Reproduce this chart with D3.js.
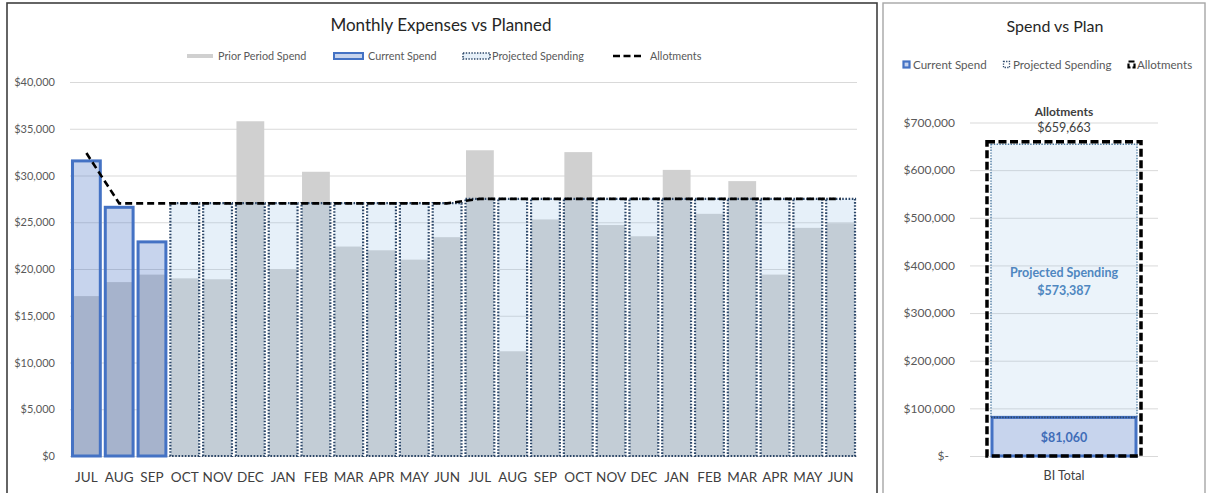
<!DOCTYPE html>
<html>
<head>
<meta charset="utf-8">
<script src="https://cdn.jsdelivr.net/npm/d3@7"></script>
<style>
  html, body { margin: 0; padding: 0; background: #fff; }
  svg { display: block; font-family: Lato, "Open Sans", sans-serif; }
</style>
</head>
<body>
<svg id="chart" width="1207" height="493"></svg>
<script>
// ---------- data ----------
const months = ["JUL","AUG","SEP","OCT","NOV","DEC","JAN","FEB","MAR","APR","MAY","JUN",
                "JUL","AUG","SEP","OCT","NOV","DEC","JAN","FEB","MAR","APR","MAY","JUN"];
const priorSpend = [17100, 18600, 19400, 19000, 18900, 35800, 20000, 30400, 22400, 22000, 21000, 23400,
                    32700, 11200, 25300, 32500, 24700, 23500, 30600, 25900, 29400, 19400, 24400, 24900];
const currentSpend = [31560, 26600, 22900, null, null, null, null, null, null, null, null, null,
                      null, null, null, null, null, null, null, null, null, null, null, null];
const projectedSpend = [null, null, null, 27040, 27040, 27040, 27040, 27040, 27040, 27040, 27040, 27040,
                        27500, 27500, 27500, 27500, 27500, 27500, 27500, 27500, 27500, 27500, 27500, 27500];
const allotments = [32400, 27024, 27024, 27024, 27024, 27024, 27024, 27024, 27024, 27024, 27024, 27024,
                    27500, 27500, 27500, 27500, 27500, 27500, 27500, 27500, 27500, 27500, 27500, 27500];
const leftTicks = [0, 5000, 10000, 15000, 20000, 25000, 30000, 35000, 40000];

const totalCategory = ["BI Total"];
const totalCurrent = [81060];
const totalProjected = [573387];
const totalAllotment = [659663];
const rightTicks = [0, 100000, 200000, 300000, 400000, 500000, 600000, 700000];

// ---------- styles ----------
const C = {
  prior: "#d0d0d0",
  blue: "#4472c4",
  projFill: "#9dc3e6",
  projStroke: "#2b4668",
  text: "#595959",
  grid: "#d9d9d9"
};

const svg = d3.select("#chart");
svg.append("rect").attr("width", 1207).attr("height", 493).attr("fill", "#fff");

// panel borders
svg.append("rect").attr("x", 7).attr("y", 3).attr("width", 870).attr("height", 500)
  .attr("fill", "none").attr("stroke", "#3f3f3f").attr("stroke-width", 1.6);
svg.append("rect").attr("x", 883).attr("y", 3).attr("width", 322).attr("height", 500)
  .attr("fill", "none").attr("stroke", "#a6a6a6").attr("stroke-width", 1.4);

// ================= LEFT CHART =================
const x = d3.scaleBand().domain(d3.range(months.length)).range([70, 857])
  .paddingInner(0.06).paddingOuter(0.03);
const y = d3.scaleLinear().domain([0, 40000]).range([456, 82]);
const bw = x.bandwidth();

// grid
const gGrid = svg.append("g").attr("transform", "translate(70,0)")
  .call(d3.axisLeft(y).tickValues(leftTicks).tickSize(-787).tickFormat(""));
gGrid.select(".domain").remove();
gGrid.selectAll("line").attr("stroke", C.grid).attr("stroke-width", 1);

// y labels
const gY = svg.append("g").attr("transform", "translate(57,0)")
  .call(d3.axisLeft(y).tickValues(leftTicks).tickSize(0).tickPadding(2)
    .tickFormat(d => "$" + d3.format(",")(d)));
gY.select(".domain").remove();
gY.selectAll("text").attr("fill", C.text).style("font-size", "11px").style("font-family", "Lato, sans-serif");

// x labels
const gX = svg.append("g").attr("transform", "translate(0,456)")
  .call(d3.axisBottom(x).tickSize(0).tickPadding(16).tickFormat(i => months[i]));
gX.select(".domain").remove();
gX.selectAll("text").attr("fill", "#404040").style("font-size", "13.5px").style("font-family", "Lato, sans-serif");

// prior period bars
svg.append("g").selectAll("rect").data(priorSpend).join("rect")
  .attr("x", (d, i) => x(i) + 1.5)
  .attr("width", bw - 3)
  .attr("y", d => y(d))
  .attr("height", d => y(0) - y(d))
  .attr("fill", C.prior);

// projected bars
const projIdx = d3.range(months.length).filter(i => projectedSpend[i] != null);
svg.append("g").selectAll("rect").data(projIdx).join("rect")
  .attr("x", i => x(i) + 1)
  .attr("width", bw - 2)
  .attr("y", i => y(projectedSpend[i]))
  .attr("height", i => y(0) - y(projectedSpend[i]))
  .attr("fill", C.projFill).attr("fill-opacity", 0.25)
  .attr("stroke", C.projStroke).attr("stroke-width", 2.2)
  .attr("stroke-dasharray", "1.6,1.6");

// current spend bars
const curIdx = d3.range(months.length).filter(i => currentSpend[i] != null);
svg.append("g").selectAll("rect").data(curIdx).join("rect")
  .attr("x", i => x(i) + 1.5)
  .attr("width", bw - 3)
  .attr("y", i => y(currentSpend[i]))
  .attr("height", i => y(0) - y(currentSpend[i]))
  .attr("fill", C.blue).attr("fill-opacity", 0.3)
  .attr("stroke", C.blue).attr("stroke-width", 3);

// allotments line
svg.append("path")
  .datum(allotments)
  .attr("d", d3.line().x((d, i) => x(i) + bw / 2).y(d => y(d)))
  .attr("fill", "none").attr("stroke", "#000").attr("stroke-width", 2.6)
  .attr("stroke-dasharray", "7,4");

// title
svg.append("text").attr("x", 441).attr("y", 31).attr("text-anchor", "middle")
  .attr("fill", "#262626").style("font-size", "17px").text("Monthly Expenses vs Planned");

// legend
const lg = svg.append("g").style("font-size", "10.8px").attr("fill", C.text);
lg.append("rect").attr("x", 187).attr("y", 54).attr("width", 26).attr("height", 4).attr("fill", C.prior);
lg.append("text").attr("x", 218).attr("y", 59.5).text("Prior Period Spend");
lg.append("rect").attr("x", 334).attr("y", 53).attr("width", 29).attr("height", 6)
  .attr("fill", C.blue).attr("fill-opacity", 0.3).attr("stroke", C.blue).attr("stroke-width", 2);
lg.append("text").attr("x", 368).attr("y", 59.5).text("Current Spend");
lg.append("rect").attr("x", 463).attr("y", 53).attr("width", 27).attr("height", 6)
  .attr("fill", C.projFill).attr("fill-opacity", 0.25)
  .attr("stroke", C.projStroke).attr("stroke-width", 1.6).attr("stroke-dasharray", "1.4,1.4");
lg.append("text").attr("x", 492).attr("y", 59.5).text("Projected Spending");
lg.append("line").attr("x1", 613).attr("x2", 644).attr("y1", 56).attr("y2", 56)
  .attr("stroke", "#000").attr("stroke-width", 2.4).attr("stroke-dasharray", "7,3.5");
lg.append("text").attr("x", 650).attr("y", 59.5).text("Allotments");

// ================= RIGHT CHART =================
const xr = d3.scaleBand().domain(totalCategory).range([970, 1158]).padding(0.1257);
const yr = d3.scaleLinear().domain([0, 700000]).range([456, 122.5]);
const rbw = xr.bandwidth();

const gGridR = svg.append("g").attr("transform", "translate(970,0)")
  .call(d3.axisLeft(yr).tickValues(rightTicks).tickSize(-188).tickFormat(""));
gGridR.select(".domain").remove();
gGridR.selectAll("line").attr("stroke", C.grid).attr("stroke-width", 1);

const gYR = svg.append("g").attr("transform", "translate(957,0)")
  .call(d3.axisLeft(yr).tickValues(rightTicks).tickSize(0).tickPadding(2)
    .tickFormat(d => d === 0 ? "$-" : "$" + d3.format(",")(d)));
gYR.select(".domain").remove();
gYR.selectAll("text").attr("fill", C.text).style("font-size", "12px").style("font-family", "Lato, sans-serif")
  .attr("dx", d => d === 0 ? -6 : 0);

const gXR = svg.append("g").attr("transform", "translate(0,456)")
  .call(d3.axisBottom(xr).tickSize(0).tickPadding(15));
gXR.select(".domain").remove();
gXR.selectAll("text").attr("fill", "#404040").style("font-size", "12.5px").style("font-family", "Lato, sans-serif");

// projected (stacked on current)
totalCategory.forEach((c, k) => {
  const base = totalCurrent[k];
  const top = base + totalProjected[k];
  svg.append("rect")
    .attr("x", xr(c)).attr("width", rbw)
    .attr("y", yr(top)).attr("height", yr(base) - yr(top))
    .attr("fill", C.projFill).attr("fill-opacity", 0.2)
    .attr("stroke", "#4d7aa0").attr("stroke-width", 1.4).attr("stroke-dasharray", "1.4,1.4");
  svg.append("rect")
    .attr("x", xr(c) + 1).attr("width", rbw - 2)
    .attr("y", yr(base)).attr("height", yr(0) - yr(base))
    .attr("fill", C.blue).attr("fill-opacity", 0.3)
    .attr("stroke", C.blue).attr("stroke-width", 3);
  svg.append("line")
    .attr("x1", xr(c)).attr("x2", xr(c) + rbw).attr("y1", yr(base)).attr("y2", yr(base))
    .attr("stroke", C.projStroke).attr("stroke-width", 1.6).attr("stroke-dasharray", "1.4,1.4");
  // allotment box
  svg.append("rect")
    .attr("x", xr(c) - 4).attr("width", rbw + 8)
    .attr("y", yr(totalAllotment[k])).attr("height", yr(0) - yr(totalAllotment[k]))
    .attr("fill", "none").attr("stroke", "#000").attr("stroke-width", 3.5)
    .attr("stroke-dasharray", "8,3.5");

  const cx = xr(c) + rbw / 2;
  svg.append("text").attr("x", cx).attr("y", yr(totalAllotment[k]) - 26).attr("text-anchor", "middle")
    .attr("fill", "#404040").style("font-size", "12px").style("font-weight", "bold").text("Allotments");
  svg.append("text").attr("x", cx).attr("y", yr(totalAllotment[k]) - 10).attr("text-anchor", "middle")
    .attr("fill", "#404040").style("font-size", "12.5px").text("$" + d3.format(",")(totalAllotment[k]));
  const pm = (yr(top) + yr(base)) / 2;
  svg.append("text").attr("x", cx).attr("y", pm - 4).attr("text-anchor", "middle")
    .attr("fill", "#4f87c0").style("font-size", "12.5px").style("font-weight", "bold").text("Projected Spending");
  svg.append("text").attr("x", cx).attr("y", pm + 14).attr("text-anchor", "middle")
    .attr("fill", "#4f87c0").style("font-size", "12.5px").style("font-weight", "bold")
    .text("$" + d3.format(",")(totalProjected[k]));
  svg.append("text").attr("x", cx).attr("y", (yr(base) + yr(0)) / 2 + 5.5).attr("text-anchor", "middle")
    .attr("fill", "#3f6db8").style("font-size", "12.5px").style("font-weight", "bold")
    .text("$" + d3.format(",")(totalCurrent[k]));
});

// right title
svg.append("text").attr("x", 1055).attr("y", 32).attr("text-anchor", "middle")
  .attr("fill", "#262626").style("font-size", "16px").text("Spend vs Plan");

// right legend
const rl = svg.append("g").style("font-size", "11.6px").attr("fill", C.text);
rl.append("rect").attr("x", 903.5).attr("y", 61.5).attr("width", 6).attr("height", 6)
  .attr("fill", "#c5d3ee").attr("stroke", C.blue).attr("stroke-width", 2.2);
rl.append("text").attr("x", 913).attr("y", 69).text("Current Spend");
rl.append("rect").attr("x", 1003.5).attr("y", 61.5).attr("width", 6).attr("height", 6)
  .attr("fill", "none").attr("stroke", C.projStroke).attr("stroke-width", 1.3).attr("stroke-dasharray", "1.3,1.3");
rl.append("text").attr("x", 1013).attr("y", 69).text("Projected Spending");
rl.append("rect").attr("x", 1128.5).attr("y", 61.5).attr("width", 6).attr("height", 6)
  .attr("fill", "none").attr("stroke", "#000").attr("stroke-width", 2.2).attr("stroke-dasharray", "6,2");
rl.append("text").attr("x", 1137).attr("y", 69).text("Allotments");
</script>
</body>
</html>
